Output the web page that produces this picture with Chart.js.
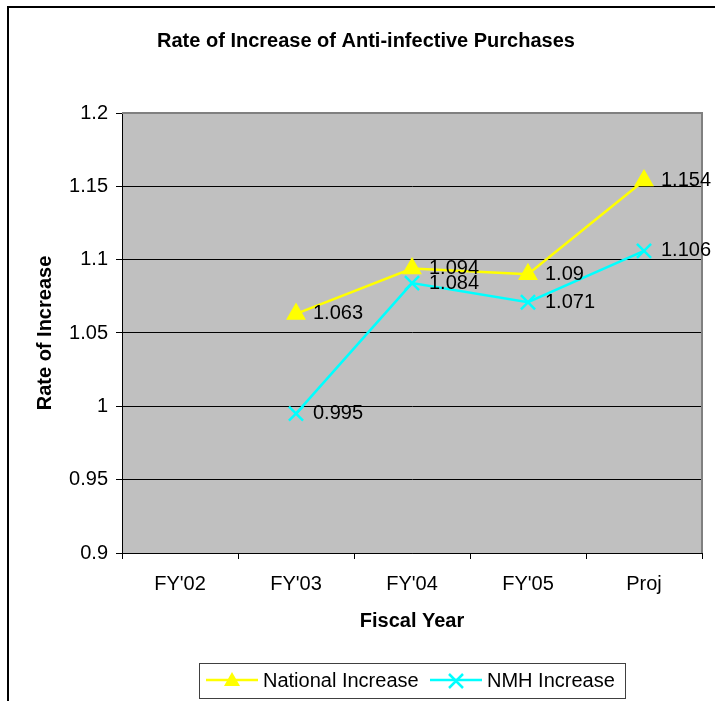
<!DOCTYPE html>
<html><head><meta charset="utf-8">
<script src="https://cdn.jsdelivr.net/npm/chart.js@4"></script>
<style>html,body{margin:0;padding:0;background:#fff}canvas{display:block}</style>
</head><body>
<canvas id="chart" width="715" height="701"></canvas>
<script>
const years = ["FY'02", "FY'03", "FY'04", "FY'05", "Proj"];
const nationalIncrease = [null, 1.063, 1.094, 1.09, 1.154];
const nmhIncrease = [null, 0.995, 1.084, 1.071, 1.106];
const rateTicks = [0.9, 0.95, 1, 1.05, 1.1, 1.15, 1.2];
const seriesNames = ['National Increase', 'NMH Increase'];

const FONT = '"Liberation Sans", Arial, sans-serif';
const YELLOW = '#ffff00', CYAN = '#00ffff';

function drawMarker(ctx, style, x, y, color) {
  ctx.save();
  ctx.fillStyle = color; ctx.strokeStyle = color; ctx.lineWidth = 2.5;
  ctx.beginPath();
  if (style === 'triangle') {
    ctx.moveTo(x, y - 9); ctx.lineTo(x + 8, y + 5); ctx.lineTo(x - 8, y + 5); ctx.closePath(); ctx.fill();
  } else {
    ctx.moveTo(x - 7, y - 7); ctx.lineTo(x + 7, y + 7);
    ctx.moveTo(x + 7, y - 7); ctx.lineTo(x - 7, y + 7); ctx.stroke();
  }
  ctx.restore();
}

// background, plot fill and frame
const backdrop = {
  id: 'backdrop',
  beforeDraw(chart) {
    const { ctx, chartArea: a } = chart;
    ctx.save();
    ctx.fillStyle = '#fff'; ctx.fillRect(0, 0, chart.width, chart.height);
    ctx.fillStyle = '#c0c0c0'; ctx.fillRect(a.left, a.top, a.right - a.left, a.bottom - a.top);
    ctx.strokeStyle = '#000'; ctx.lineWidth = 2;
    ctx.beginPath(); ctx.moveTo(8, 800); ctx.lineTo(8, 7); ctx.lineTo(800, 7); ctx.stroke();
    ctx.restore();
  },
  beforeDatasetsDraw(chart) {
    const { ctx, chartArea: a } = chart;
    ctx.save();
    ctx.strokeStyle = '#808080'; ctx.lineWidth = 2;
    ctx.beginPath(); ctx.moveTo(a.left, a.top); ctx.lineTo(a.right, a.top); ctx.lineTo(a.right, a.bottom); ctx.stroke();
    ctx.restore();
  },
  afterDatasetsDraw(chart) {
    const { ctx } = chart;
    ctx.save();
    ctx.font = '20px ' + FONT; ctx.fillStyle = '#000';
    ctx.textAlign = 'left'; ctx.textBaseline = 'middle';
    chart.data.datasets.forEach((ds, i) => {
      chart.getDatasetMeta(i).data.forEach((pt, j) => {
        if (ds.data[j] == null) return;
        ctx.fillText(String(ds.data[j]), pt.x + 17, pt.y);
      });
    });
    ctx.restore();
  },
  afterDraw(chart) {
    const { ctx } = chart;
    ctx.save();
    ctx.fillStyle = '#000'; ctx.textBaseline = 'middle';
    ctx.font = 'bold 20px ' + FONT; ctx.textAlign = 'center';
    ctx.fillText('Rate of Increase of Anti-infective Purchases', 366, 41);
    // legend
    ctx.fillStyle = '#fff'; ctx.fillRect(199, 663, 426, 35);
    ctx.strokeStyle = '#404040'; ctx.lineWidth = 1; ctx.strokeRect(199.5, 663.5, 426, 35);
    const items = [
      { name: seriesNames[0], color: YELLOW, style: 'triangle', x: 206 },
      { name: seriesNames[1], color: CYAN, style: 'cross', x: 430 }
    ];
    ctx.font = '20px ' + FONT; ctx.textAlign = 'left';
    items.forEach(it => {
      ctx.strokeStyle = it.color; ctx.lineWidth = 2.5;
      ctx.beginPath(); ctx.moveTo(it.x, 680); ctx.lineTo(it.x + 52, 680); ctx.stroke();
      drawMarker(ctx, it.style, it.x + 26, 681, it.color);
      ctx.fillStyle = '#000';
      ctx.fillText(it.name, it.x + 57, 681);
    });
    ctx.restore();
  }
};

new Chart(document.getElementById('chart'), {
  type: 'line',
  data: {
    labels: years,
    datasets: [
      { label: seriesNames[0], data: nationalIncrease, borderColor: YELLOW, backgroundColor: YELLOW,
        borderWidth: 2.5, pointStyle: 'triangle', pointRadius: 9, pointHoverRadius: 9,
        pointBackgroundColor: YELLOW, pointBorderColor: YELLOW, tension: 0 },
      { label: seriesNames[1], data: nmhIncrease, borderColor: CYAN, backgroundColor: CYAN,
        borderWidth: 2.5, pointStyle: 'crossRot', pointRadius: 10, pointHoverRadius: 10,
        pointBorderWidth: 2.5, pointBorderColor: CYAN, tension: 0 }
    ]
  },
  options: {
    responsive: false,
    animation: false,
    devicePixelRatio: 1,
    layout: { padding: { top: 113, left: 20, right: 13, bottom: 58 } },
    plugins: { legend: { display: false }, title: { display: false }, tooltip: { enabled: false } },
    scales: {
      x: {
        offset: true,
        grid: { offset: true, drawOnChartArea: false, drawTicks: true, tickLength: 6, color: '#000' },
        border: { color: '#000', width: 1 },
        ticks: { color: '#000', font: { family: FONT, size: 20 }, padding: 13, maxRotation: 0 },
        title: { display: true, text: 'Fiscal Year', color: '#000',
          font: { family: FONT, size: 20, weight: 'bold' }, padding: { top: 0, bottom: 10 } },
        afterFit(s) { s.height = 90; }
      },
      y: {
        min: 0.9, max: 1.2,
        afterBuildTicks(s) { s.ticks = rateTicks.map(v => ({ value: v })); },
        grid: { color: '#000', lineWidth: 1, tickLength: 6 },
        border: { color: '#000', width: 1 },
        ticks: { color: '#000', font: { family: FONT, size: 20 }, padding: 8,
          callback: v => String(+Number(v).toFixed(2)) },
        title: { display: true, text: 'Rate of Increase', color: '#000',
          font: { family: FONT, size: 20, weight: 'bold' }, padding: { top: 13, bottom: 0 } },
        afterFit(s) { s.width = 102; }
      }
    }
  },
  plugins: [backdrop]
});
</script>
</body></html>
